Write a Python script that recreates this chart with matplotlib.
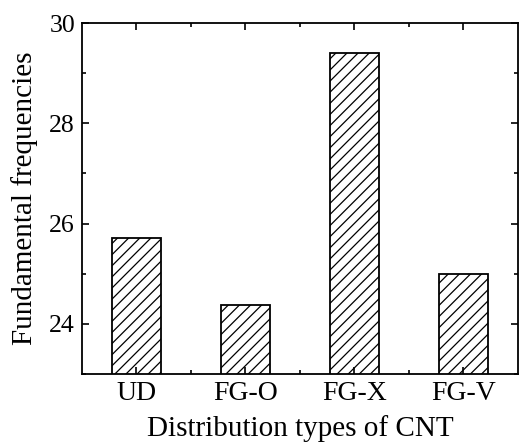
import numpy as np
import matplotlib
matplotlib.use('Agg')
import matplotlib.pyplot as plt
from matplotlib.ticker import MultipleLocator, FixedLocator

# data
categories = ['UD', 'FG-O', 'FG-X', 'FG-V']
frequencies = [25.72, 24.37, 29.40, 24.99]

plt.rcParams.update({'font.family': 'Liberation Serif', 'font.size': 18,
                     'hatch.linewidth': 0.9})

fig = plt.figure(figsize=(5.19, 4.44), dpi=100)
ax = fig.add_axes([0.158, 0.158, 0.84, 0.79])

x = np.arange(len(categories))
ax.bar(x, frequencies, width=0.45, color='white', edgecolor='black',
       linewidth=1.3, hatch='///')

ax.set_xlim(-0.5, 3.5)
ax.set_ylim(23, 30)
ax.set_xticks(x)
ax.set_xticklabels(categories)
ax.xaxis.set_minor_locator(FixedLocator([0.5, 1.5, 2.5]))
ax.yaxis.set_major_locator(MultipleLocator(2))
ax.yaxis.set_minor_locator(MultipleLocator(1))
ax.tick_params(which='both', direction='in', top=True, right=True, width=1.2)
ax.tick_params(which='major', length=5)
ax.tick_params(which='minor', length=3)
ax.tick_params(axis='x', labelsize=20, pad=5)
ax.tick_params(axis='y', labelsize=18.5, pad=5)
for s in ax.spines.values():
    s.set_linewidth(1.3)

ax.set_xlabel('Distribution types of CNT', fontsize=21, labelpad=7)
ax.set_ylabel('Fundamental frequencies', fontsize=21, labelpad=8)

fig.savefig('out.png', dpi=100)
